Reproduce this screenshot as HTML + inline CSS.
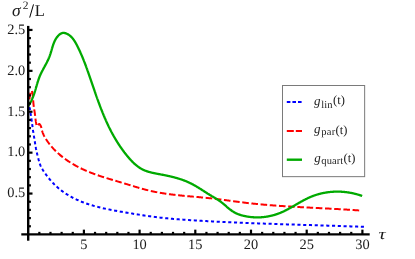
<!DOCTYPE html>
<html><head><meta charset="utf-8"><style>
html,body{margin:0;padding:0;background:#fff;}
svg{display:block;will-change:transform;}
text{font-family:"Liberation Serif",serif;fill:#1a1a1a;text-rendering:geometricPrecision;}
.tk{font-size:14.4px;}
.it{font-style:italic;}
.lg{font-size:13px;}
.sb{font-size:10.5px;}
.pt{font-size:12.5px;}
</style></head><body>
<svg width="415" height="259" viewBox="0 0 415 259">
<rect width="415" height="259" fill="#fff"/>
<path d="M361.85 226.77L362.22 226.79L362.58 226.80L362.95 226.81M356.08 226.57L356.45 226.58L356.82 226.59L357.18 226.61M350.32 226.37L350.68 226.38L351.05 226.39L351.42 226.41M344.55 226.18L344.92 226.19L345.28 226.20L345.65 226.21M338.78 225.99L339.15 226.00L339.52 226.01L339.88 226.02M333.02 225.80L333.38 225.81L333.75 225.83L334.12 225.84M327.25 225.62L327.62 225.63L327.98 225.64L328.35 225.66M321.48 225.44L321.85 225.45L322.22 225.47L322.58 225.48M315.72 225.27L316.08 225.28L316.45 225.29L316.81 225.30M309.95 225.09L310.31 225.10L310.68 225.11L311.05 225.12M304.18 224.91L304.55 224.92L304.91 224.94L305.28 224.95M298.41 224.74L298.78 224.75L299.15 224.76L299.51 224.77M292.65 224.56L293.01 224.57L293.38 224.58L293.75 224.59M286.88 224.38L287.25 224.39L287.61 224.40L287.98 224.41M281.11 224.19L281.48 224.20L281.84 224.21L282.21 224.23M275.34 224.00L275.71 224.01L276.08 224.03L276.44 224.04M269.58 223.81L269.94 223.82L270.31 223.83L270.68 223.84M263.81 223.61L264.18 223.62L264.54 223.63L264.91 223.65M258.05 223.40L258.41 223.41L258.78 223.43L259.14 223.44M252.28 223.19L252.65 223.20L253.01 223.21L253.38 223.23M246.51 222.96L246.88 222.98L247.25 222.99L247.61 223.01M240.75 222.73L241.11 222.75L241.48 222.76L241.85 222.78M234.98 222.49L235.35 222.50L235.72 222.52L236.08 222.54M229.22 222.24L229.59 222.25L229.95 222.27L230.32 222.29M223.45 221.97L223.82 221.99L224.19 222.01L224.55 222.02M217.70 221.70L218.07 221.71L218.43 221.73L218.80 221.75M211.97 221.41L212.34 221.43L212.71 221.44L213.07 221.46M206.25 221.10L206.61 221.12L206.98 221.14L207.34 221.16M200.52 220.79L200.89 220.81L201.25 220.83L201.62 220.85M194.79 220.45L195.16 220.48L195.53 220.50L195.89 220.52M189.07 220.10L189.44 220.12L189.80 220.14L190.17 220.17M183.35 219.70L183.71 219.73L184.08 219.76L184.45 219.78M177.63 219.27L177.99 219.30L178.36 219.33L178.73 219.36M171.91 218.78L172.28 218.82L172.64 218.85L173.01 218.88M166.20 218.24L166.56 218.27L166.93 218.31L167.29 218.35M160.49 217.62L160.85 217.66L161.22 217.70L161.58 217.74M154.79 216.93L155.15 216.97L155.52 217.02L155.88 217.06M149.10 216.16L149.46 216.21L149.82 216.26L150.19 216.31M143.41 215.34L143.78 215.39L144.14 215.45L144.50 215.50M137.74 214.46L138.10 214.52L138.46 214.58L138.82 214.63M132.07 213.55L132.43 213.61L132.79 213.67L133.15 213.73M126.40 212.61L126.76 212.67L127.13 212.73L127.49 212.79M120.74 211.64L121.10 211.71L121.46 211.77L121.82 211.83M115.08 210.64L115.45 210.71L115.81 210.77L116.17 210.84M109.44 209.57L109.80 209.64L110.16 209.71L110.52 209.78M103.82 208.39L104.18 208.47L104.54 208.55L104.90 208.62M98.24 207.06L98.59 207.15L98.95 207.24L99.30 207.33M92.70 205.54L93.05 205.65L93.40 205.75L93.75 205.85M87.22 203.81L87.57 203.93L87.91 204.04L88.26 204.16M81.85 201.83L82.19 201.96L82.53 202.09L82.87 202.23M76.60 199.56L76.93 199.72L77.26 199.87L77.60 200.02M71.49 197.00L71.81 197.17L72.13 197.34L72.46 197.52M66.55 194.10L66.87 194.30L67.18 194.49L67.49 194.69M61.84 190.86L62.13 191.08L62.43 191.30L62.73 191.51M57.39 187.26L57.67 187.50L57.95 187.74L58.22 187.98M53.27 183.29L53.52 183.55L53.78 183.81L54.03 184.08M49.45 179.01L49.69 179.29L49.92 179.57L50.16 179.85M45.93 174.49L46.14 174.78L46.36 175.08L46.58 175.37M42.69 169.75L42.88 170.06L43.08 170.37L43.28 170.68M40.11 164.63L40.25 164.97L40.38 165.31L40.53 165.65M38.48 159.11L38.57 159.47L38.67 159.82L38.76 160.18M37.05 153.54L37.14 153.89L37.22 154.25L37.31 154.61M35.86 147.90L35.93 148.27L35.99 148.63L36.06 148.99M34.91 142.22L34.97 142.59L35.03 142.95L35.08 143.31M33.99 136.54L34.05 136.90L34.11 137.27L34.17 137.63M33.08 130.86L33.14 131.22L33.19 131.58L33.25 131.94M32.29 125.15L32.34 125.51L32.39 125.88L32.44 126.24M31.52 119.45L31.57 119.81L31.62 120.17L31.67 120.53M30.62 113.76L30.68 114.12L30.74 114.48L30.80 114.84M29.62 108.09L29.70 108.45L29.76 108.81L29.83 109.17" fill="none" stroke="#0000ff" stroke-width="2" stroke-linecap="square"/>
<path d="M28.20 105.80L28.40 105.29L28.57 104.79L28.73 104.31L28.86 103.86L28.98 103.41L29.09 102.99L29.18 102.57L29.26 102.17L29.32 101.78L29.37 101.41L29.42 101.04L29.46 100.68L29.49 100.32L29.51 99.97L29.53 99.63L29.55 99.29L29.56 98.95L29.57 98.61L29.59 98.28L29.60 97.94L29.62 97.59L29.64 97.25L29.67 96.90L29.71 96.54L29.75 96.18L29.80 95.81L29.86 95.42L29.93 95.03L30.02 94.62L30.12 94.21L30.23 93.77L30.36 93.32L30.51 92.86L30.68 92.38L30.86 91.90L31.05 91.47L31.25 91.13L31.44 90.93L31.61 90.91L31.77 91.07L31.92 91.38L32.05 91.80L32.17 92.29L32.28 92.83L32.38 93.38L32.47 93.90L32.55 94.40L32.62 94.87L32.68 95.32L32.74 95.74L32.79 96.15L32.84 96.54L32.88 96.91L32.92 97.28L32.95 97.63L32.98 97.98L33.01 98.33L33.04 98.68L33.06 99.03L33.09 99.38L33.12 99.74L33.15 100.11L33.18 100.49L33.21 100.88L33.24 101.27L33.28 101.66L33.31 102.06L33.35 102.47L33.38 102.87L33.42 103.28L33.46 103.69L33.50 104.10L33.55 104.51L33.59 104.92L33.63 105.33L33.68 105.74L33.73 106.14L33.78 106.54L33.83 106.94L33.88 107.34L33.94 107.73L34.00 108.12L34.06 108.52L34.12 108.91L34.18 109.30L34.24 109.70L34.31 110.09L34.38 110.49L34.44 110.88L34.51 111.28L34.57 111.67L34.64 112.07L34.70 112.46L34.75 112.86L34.81 113.26L34.86 113.65L34.91 114.05L34.96 114.45L35.01 114.84L35.06 115.24L35.10 115.64L35.15 116.04L35.19 116.43L35.23 116.83L35.28 117.23L35.33 117.63L35.37 118.02L35.42 118.42L35.47 118.82L35.52 119.21L35.57 119.61L35.63 120.01L35.69 120.40L35.75 120.80L35.81 121.20L35.88 121.59L35.94 121.99L36.01 122.38L36.07 122.77L36.13 123.17L36.19 123.56L36.25 123.95L36.32 124.34L36.41 124.73L36.56 125.12L36.76 125.51L37.03 125.86L37.32 126.06L37.61 126.01L37.88 125.74L38.14 125.32L38.38 124.86L38.62 124.43L38.85 124.10L39.11 123.92L39.38 123.95L39.67 124.18L39.96 124.54L40.23 124.94L40.46 125.33L40.66 125.71L40.83 126.08L40.97 126.44L41.09 126.80L41.20 127.17L41.30 127.53L41.39 127.91L41.48 128.29L41.56 128.67L41.65 129.06L41.74 129.45L41.83 129.85L41.93 130.24L42.03 130.63L42.14 131.02L42.25 131.40L42.38 131.78L42.51 132.16L42.64 132.54L42.78 132.92L42.93 133.29L43.08 133.67L43.23 134.04L43.40 134.40L43.56 134.77L43.74 135.14L43.91 135.50L44.09 135.86L44.28 136.22L44.47 136.57L44.66 136.93L44.86 137.28L45.06 137.63L45.27 137.98L45.48 138.33L45.69 138.67L45.90 139.02L46.12 139.36L46.34 139.70L46.56 140.03L46.79 140.37L47.02 140.71L47.25 141.04L47.48 141.37L47.71 141.70L47.95 142.03L48.19 142.35L48.43 142.68L48.67 143.00L48.91 143.32L49.16 143.64L49.40 143.96L49.65 144.28L49.90 144.59L50.15 144.90L50.40 145.21L50.66 145.52L50.91 145.83L51.17 146.14L51.43 146.44L51.69 146.75L51.95 147.05L52.22 147.35L52.48 147.65L52.75 147.94L53.02 148.24L53.29 148.53L53.56 148.82L53.83 149.12L54.10 149.40L54.38 149.69L54.66 149.98L54.94 150.26L55.22 150.55L55.50 150.83L55.78 151.11L56.07 151.38L56.35 151.66L56.64 151.94L56.93 152.21L57.22 152.48L57.51 152.75L57.80 153.02L58.10 153.29L58.39 153.56L58.69 153.82L58.99 154.08L59.29 154.35L59.59 154.61L59.89 154.86L60.19 155.12L60.50 155.38L60.80 155.63L61.11 155.88L61.42 156.14L61.73 156.39L62.04 156.63L62.35 156.88L62.66 157.13L62.98 157.37L63.29 157.61L63.61 157.86L63.92 158.10L64.24 158.33L64.56 158.57L64.88 158.81L65.21 159.04L65.53 159.28L65.85 159.51L66.18 159.74L66.50 159.97L66.83 160.19L67.16 160.42L67.49 160.64L67.82 160.87L68.15 161.09L68.48 161.31L68.81 161.53L69.15 161.75L69.48 161.97L69.82 162.18L70.15 162.39L70.49 162.61L70.83 162.82L71.17 163.03L71.51 163.24L71.85 163.45L72.19 163.65L72.54 163.86L72.88 164.06L73.22 164.26L73.57 164.46L73.92 164.66L74.26 164.86L74.61 165.06L74.96 165.25L75.31 165.45L75.66 165.64L76.01 165.84L76.36 166.03L76.71 166.22L77.07 166.40L77.42 166.59L77.77 166.78L78.13 166.96L78.48 167.15L78.84 167.33L79.20 167.51L79.55 167.69L79.91 167.87L80.27 168.05L80.63 168.22L80.99 168.40L81.35 168.57L81.71 168.74L82.07 168.92L82.43 169.09L82.80 169.26L83.16 169.42L83.52 169.59L83.89 169.76L84.25 169.92L84.62 170.09L84.98 170.25L85.35 170.41L85.71 170.57L86.08 170.73L86.45 170.89L86.82 171.04L87.18 171.20L87.55 171.36L87.92 171.51L88.29 171.66L88.66 171.81L89.03 171.96L89.40 172.11L89.77 172.26L90.14 172.41L90.51 172.56L90.89 172.70L91.26 172.85L91.63 172.99L92.00 173.14L92.38 173.28L92.75 173.42L93.12 173.56L93.50 173.70L93.87 173.84L94.25 173.98L94.62 174.11L95.00 174.25L95.38 174.39L95.75 174.52L96.13 174.66L96.51 174.79L96.88 174.92L97.26 175.05L97.64 175.19L98.02 175.32L98.39 175.45L98.77 175.58L99.15 175.70L99.53 175.83L99.91 175.96L100.29 176.09L100.67 176.21L101.05 176.34L101.43 176.46L101.81 176.59L102.19 176.71L102.57 176.84L102.95 176.96L103.33 177.08L103.71 177.20L104.09 177.33L104.47 177.45L104.86 177.57L105.24 177.69L105.62 177.81L106.00 177.93L106.39 178.05L106.77 178.17L107.15 178.28L107.53 178.40L107.92 178.52L108.30 178.64L108.68 178.75L109.07 178.87L109.45 178.99L109.83 179.10L110.22 179.22L110.60 179.33L110.98 179.45L111.37 179.57L111.75 179.68L112.14 179.80L112.52 179.91L112.90 180.02L113.29 180.14L113.67 180.25L114.06 180.37L114.44 180.48L114.83 180.60L115.21 180.71L115.60 180.82L115.98 180.94L116.36 181.05L116.75 181.16L117.13 181.28L117.52 181.39L117.90 181.51L118.29 181.62L118.67 181.73L119.06 181.85L119.44 181.96L119.83 182.08L120.21 182.19L120.59 182.30L120.98 182.42L121.36 182.53L121.75 182.65L122.13 182.76L122.52 182.88L122.90 182.99L123.28 183.11L123.67 183.22L124.05 183.34L124.43 183.45L124.82 183.57L125.20 183.69L125.58 183.80L125.97 183.92L126.35 184.04L126.73 184.15L127.12 184.27L127.50 184.39L127.88 184.51L128.27 184.62L128.65 184.74L129.03 184.86L129.42 184.98L129.80 185.09L130.18 185.21L130.56 185.33L130.95 185.44L131.33 185.56L131.71 185.68L132.10 185.80L132.48 185.91L132.86 186.03L133.24 186.15L133.63 186.26L134.01 186.38L134.39 186.49L134.78 186.61L135.16 186.72L135.54 186.84L135.92 186.95L136.31 187.07L136.69 187.18L137.07 187.30L137.46 187.41L137.84 187.52L138.22 187.63L138.61 187.75L138.99 187.86L139.37 187.97L139.76 188.08L140.14 188.19L140.53 188.30L140.91 188.41L141.29 188.52L141.68 188.62L142.06 188.73L142.45 188.84L142.83 188.94L143.22 189.05L143.60 189.15L143.99 189.26L144.37 189.36L144.76 189.46L145.14 189.57L145.53 189.67L145.91 189.77L146.30 189.87L146.69 189.97L147.07 190.06L147.46 190.16L147.85 190.26L148.23 190.35L148.62 190.45L149.01 190.54L149.39 190.63L149.78 190.72L150.17 190.81L150.56 190.90L150.95 190.99L151.33 191.08L151.72 191.17L152.11 191.25L152.50 191.34L152.89 191.42L153.28 191.50L153.67 191.59L154.06 191.67L154.45 191.75L154.84 191.83L155.23 191.90L155.62 191.98L156.01 192.06L156.40 192.13L156.79 192.21L157.19 192.28L157.58 192.35L157.97 192.43L158.36 192.50L158.75 192.57L159.15 192.64L159.54 192.71L159.93 192.78L160.32 192.84L160.72 192.91L161.11 192.98L161.50 193.04L161.90 193.11L162.29 193.17L162.68 193.23L163.08 193.30L163.47 193.36L163.87 193.42L164.26 193.48L164.66 193.54L165.05 193.60L165.45 193.66L165.84 193.71L166.24 193.77L166.63 193.83L167.03 193.88L167.42 193.94L167.82 193.99L168.21 194.05L168.61 194.10L169.01 194.15L169.40 194.20L169.80 194.26L170.20 194.31L170.59 194.36L170.99 194.41L171.39 194.46L171.78 194.51L172.18 194.56L172.58 194.60L172.97 194.65L173.37 194.70L173.77 194.75L174.17 194.79L174.56 194.84L174.96 194.88L175.36 194.93L175.76 194.97L176.15 195.02L176.55 195.06L176.95 195.10L177.35 195.15L177.75 195.19L178.15 195.23L178.54 195.27L178.94 195.32L179.34 195.36L179.74 195.40L180.14 195.44L180.54 195.48L180.94 195.52L181.34 195.56L181.73 195.60L182.13 195.64L182.53 195.68L182.93 195.71L183.33 195.75L183.73 195.79L184.13 195.83L184.53 195.87L184.93 195.90L185.33 195.94L185.73 195.98L186.13 196.02L186.53 196.05L186.93 196.09L187.33 196.13L187.73 196.16L188.13 196.20L188.53 196.23L188.93 196.27L189.33 196.31L189.73 196.34L190.13 196.38L190.53 196.41L190.93 196.45L191.33 196.48L191.72 196.52L192.12 196.55L192.52 196.59L192.92 196.63L193.32 196.66L193.72 196.70L194.12 196.73L194.52 196.77L194.92 196.80L195.32 196.84L195.72 196.87L196.12 196.91L196.52 196.94L196.92 196.98L197.32 197.02L197.72 197.05L198.12 197.09L198.52 197.12L198.92 197.16L199.32 197.20L199.72 197.23L200.12 197.27L200.52 197.31L200.92 197.34L201.32 197.38L201.72 197.42L202.12 197.45L202.52 197.49L202.92 197.53L203.32 197.57L203.72 197.61L204.12 197.64L204.52 197.68L204.92 197.72L205.32 197.76L205.72 197.80L206.11 197.84L206.51 197.88L206.91 197.92L207.31 197.96L207.71 198.00L208.11 198.04L208.51 198.09L208.91 198.13L209.31 198.17L209.70 198.21L210.10 198.26L210.50 198.30L210.90 198.34L211.30 198.39L211.70 198.43L212.09 198.48L212.49 198.52L212.89 198.57L213.29 198.61L213.68 198.66L214.08 198.71L214.48 198.75L214.88 198.80L215.27 198.85L215.67 198.90L216.07 198.94L216.47 198.99L216.86 199.04L217.26 199.09L217.66 199.14L218.05 199.19L218.45 199.24L218.85 199.29L219.25 199.34L219.64 199.39L220.04 199.44L220.44 199.49L220.83 199.54L221.23 199.59L221.63 199.64L222.02 199.70L222.42 199.75L222.82 199.80L223.21 199.85L223.61 199.90L224.00 199.96L224.40 200.01L224.80 200.06L225.19 200.11L225.59 200.17L225.99 200.22L226.38 200.27L226.78 200.33L227.17 200.38L227.57 200.43L227.97 200.48L228.36 200.54L228.76 200.59L229.15 200.64L229.55 200.70L229.95 200.75L230.34 200.80L230.74 200.86L231.13 200.91L231.53 200.96L231.93 201.02L232.32 201.07L232.72 201.12L233.11 201.18L233.51 201.23L233.90 201.28L234.30 201.34L234.70 201.39L235.09 201.44L235.49 201.49L235.88 201.55L236.28 201.60L236.68 201.65L237.07 201.70L237.47 201.75L237.86 201.81L238.26 201.86L238.66 201.91L239.05 201.96L239.45 202.01L239.84 202.06L240.24 202.11L240.64 202.16L241.03 202.21L241.43 202.26L241.82 202.31L242.22 202.36L242.62 202.41L243.01 202.46L243.41 202.51L243.81 202.56L244.20 202.61L244.60 202.66L245.00 202.70L245.39 202.75L245.79 202.80L246.18 202.85L246.58 202.89L246.98 202.94L247.37 202.98L247.77 203.03L248.17 203.08L248.57 203.12L248.96 203.16L249.36 203.21L249.76 203.25L250.15 203.30L250.55 203.34L250.95 203.38L251.34 203.43L251.74 203.47L252.14 203.51L252.54 203.56L252.93 203.60L253.33 203.64L253.73 203.68L254.12 203.72L254.52 203.76L254.92 203.80L255.32 203.84L255.71 203.88L256.11 203.92L256.51 203.96L256.91 204.00L257.30 204.04L257.70 204.08L258.10 204.12L258.50 204.16L258.89 204.20L259.29 204.23L259.69 204.27L260.09 204.31L260.49 204.35L260.88 204.38L261.28 204.42L261.68 204.46L262.08 204.49L262.48 204.53L262.87 204.56L263.27 204.60L263.67 204.64L264.07 204.67L264.47 204.71L264.86 204.74L265.26 204.77L265.66 204.81L266.06 204.84L266.46 204.88L266.86 204.91L267.25 204.94L267.65 204.98L268.05 205.01L268.45 205.04L268.85 205.07L269.25 205.11L269.64 205.14L270.04 205.17L270.44 205.20L270.84 205.23L271.24 205.27L271.64 205.30L272.04 205.33L272.43 205.36L272.83 205.39L273.23 205.42L273.63 205.45L274.03 205.48L274.43 205.51L274.83 205.54L275.23 205.57L275.62 205.60L276.02 205.63L276.42 205.66L276.82 205.68L277.22 205.71L277.62 205.74L278.02 205.77L278.42 205.80L278.82 205.83L279.22 205.85L279.61 205.88L280.01 205.91L280.41 205.94L280.81 205.96L281.21 205.99L281.61 206.02L282.01 206.04L282.41 206.07L282.81 206.10L283.21 206.12L283.61 206.15L284.01 206.18L284.40 206.20L284.80 206.23L285.20 206.25L285.60 206.28L286.00 206.30L286.40 206.33L286.80 206.35L287.20 206.38L287.60 206.40L288.00 206.43L288.40 206.45L288.80 206.48L289.20 206.50L289.60 206.53L290.00 206.55L290.40 206.57L290.80 206.60L291.20 206.62L291.59 206.65L291.99 206.67L292.39 206.69L292.79 206.72L293.19 206.74L293.59 206.76L293.99 206.78L294.39 206.81L294.79 206.83L295.19 206.85L295.59 206.88L295.99 206.90L296.39 206.92L296.79 206.94L297.19 206.97L297.59 206.99L297.99 207.01L298.39 207.03L298.79 207.05L299.19 207.08L299.59 207.10L299.99 207.12L300.39 207.14L300.79 207.16L301.19 207.18L301.59 207.21L301.99 207.23L302.39 207.25L302.79 207.27L303.19 207.29L303.59 207.31L303.99 207.33L304.39 207.35L304.79 207.38L305.19 207.40L305.59 207.42L305.99 207.44L306.39 207.46L306.79 207.48L307.19 207.50L307.58 207.52L307.98 207.54L308.38 207.56L308.78 207.58L309.18 207.60L309.58 207.62L309.98 207.64L310.38 207.66L310.78 207.68L311.18 207.70L311.58 207.73L311.98 207.75L312.38 207.77L312.78 207.79L313.18 207.81L313.58 207.83L313.98 207.85L314.38 207.87L314.78 207.89L315.18 207.91L315.58 207.93L315.98 207.95L316.38 207.97L316.78 207.99L317.18 208.01L317.58 208.03L317.98 208.05L318.38 208.07L318.78 208.09L319.18 208.11L319.58 208.13L319.98 208.15L320.38 208.17L320.78 208.19L321.18 208.21L321.58 208.23L321.98 208.25L322.38 208.27L322.78 208.29L323.18 208.31L323.58 208.33L323.98 208.35L324.38 208.37L324.78 208.39L325.18 208.41L325.58 208.43L325.98 208.45L326.38 208.47L326.78 208.49L327.18 208.52L327.58 208.54L327.98 208.56L328.38 208.58L328.78 208.60L329.18 208.62L329.58 208.64L329.98 208.66L330.38 208.68L330.78 208.70L331.18 208.72L331.58 208.75L331.97 208.77L332.37 208.79L332.77 208.81L333.17 208.83L333.57 208.85L333.97 208.87L334.37 208.90L334.77 208.92L335.17 208.94L335.57 208.96L335.97 208.98L336.37 209.00L336.77 209.03L337.17 209.05L337.57 209.07L337.97 209.09L338.37 209.12L338.77 209.14L339.17 209.16L339.57 209.18L339.96 209.21L340.36 209.23L340.76 209.25L341.16 209.28L341.56 209.30L341.96 209.32L342.36 209.35L342.76 209.37L343.16 209.39L343.56 209.42L343.96 209.44L344.36 209.46L344.76 209.49L345.16 209.51L345.55 209.54L345.95 209.56L346.35 209.59L346.75 209.61L347.15 209.63L347.55 209.66L347.95 209.68L348.35 209.71L348.75 209.74L349.15 209.76L349.54 209.79L349.94 209.81L350.34 209.84L350.74 209.86L351.14 209.89L351.54 209.92L351.94 209.94L352.34 209.97L352.73 210.00L353.13 210.02L353.53 210.05L353.93 210.08L354.33 210.10L354.73 210.13L355.13 210.16L355.53 210.19L355.92 210.21L356.32 210.24L356.72 210.27L357.12 210.30L357.52 210.33L357.92 210.36L358.31 210.38L358.71 210.41L359.11 210.44L359.51 210.47L359.91 210.50L360.31 210.53L360.70 210.56L361.10 210.59" fill="none" stroke="#ff0000" stroke-width="2" stroke-linecap="square" stroke-dasharray="4.6 4.62" stroke-dashoffset="1.60"/>
<path d="M28.20 105.80L28.44 105.48L28.68 105.15L28.91 104.82L29.13 104.49L29.36 104.16L29.57 103.83L29.79 103.49L29.99 103.15L30.20 102.81L30.40 102.46L30.59 102.11L30.78 101.77L30.97 101.41L31.16 101.06L31.34 100.71L31.51 100.35L31.69 99.99L31.86 99.63L32.02 99.27L32.19 98.91L32.35 98.54L32.50 98.18L32.66 97.81L32.81 97.44L32.96 97.07L33.10 96.69L33.25 96.32L33.39 95.95L33.53 95.57L33.66 95.19L33.80 94.81L33.93 94.44L34.06 94.05L34.19 93.67L34.32 93.29L34.44 92.91L34.57 92.52L34.69 92.14L34.81 91.76L34.93 91.37L35.05 90.98L35.17 90.60L35.28 90.21L35.40 89.82L35.51 89.43L35.63 89.05L35.74 88.66L35.86 88.27L35.97 87.88L36.08 87.49L36.19 87.10L36.31 86.71L36.42 86.32L36.53 85.93L36.65 85.55L36.76 85.16L36.87 84.77L36.99 84.38L37.10 83.99L37.22 83.61L37.33 83.22L37.45 82.84L37.57 82.45L37.69 82.07L37.81 81.68L37.93 81.30L38.06 80.92L38.18 80.53L38.31 80.15L38.44 79.77L38.57 79.40L38.70 79.02L38.83 78.64L38.97 78.27L39.11 77.89L39.25 77.52L39.39 77.15L39.54 76.78L39.69 76.41L39.84 76.04L39.99 75.68L40.15 75.31L40.31 74.95L40.47 74.59L40.63 74.23L40.80 73.87L40.97 73.51L41.14 73.16L41.31 72.80L41.48 72.45L41.66 72.09L41.84 71.74L42.02 71.39L42.20 71.04L42.38 70.69L42.57 70.34L42.75 69.99L42.94 69.64L43.12 69.29L43.31 68.94L43.50 68.60L43.69 68.25L43.88 67.90L44.07 67.55L44.26 67.21L44.44 66.86L44.63 66.51L44.82 66.16L45.01 65.82L45.20 65.47L45.39 65.12L45.58 64.77L45.77 64.42L45.96 64.07L46.14 63.72L46.33 63.37L46.51 63.02L46.69 62.66L46.88 62.31L47.06 61.95L47.23 61.60L47.41 61.24L47.59 60.88L47.76 60.52L47.93 60.16L48.10 59.80L48.27 59.43L48.43 59.07L48.60 58.70L48.76 58.33L48.91 57.96L49.07 57.59L49.22 57.22L49.37 56.84L49.52 56.46L49.66 56.08L49.80 55.70L49.94 55.32L50.07 54.93L50.20 54.54L50.33 54.15L50.46 53.76L50.58 53.37L50.70 52.98L50.82 52.59L50.94 52.19L51.06 51.80L51.18 51.40L51.30 51.00L51.41 50.61L51.53 50.21L51.64 49.81L51.76 49.42L51.87 49.02L51.99 48.62L52.11 48.23L52.22 47.83L52.34 47.44L52.46 47.05L52.58 46.65L52.71 46.26L52.83 45.88L52.96 45.49L53.09 45.10L53.22 44.72L53.35 44.33L53.49 43.95L53.63 43.58L53.77 43.20L53.92 42.83L54.07 42.46L54.22 42.09L54.38 41.72L54.54 41.36L54.71 41.00L54.88 40.65L55.06 40.30L55.24 39.95L55.43 39.60L55.62 39.26L55.82 38.93L56.02 38.59L56.23 38.27L56.45 37.94L56.67 37.62L56.90 37.31L57.14 37.00L57.38 36.70L57.63 36.40L57.89 36.10L58.16 35.81L58.43 35.53L58.71 35.25L59.00 34.98L59.30 34.72L59.61 34.47L59.92 34.23L60.24 34.01L60.57 33.80L60.90 33.61L61.24 33.44L61.59 33.28L61.95 33.16L62.31 33.05L62.67 32.97L63.05 32.92L63.43 32.90L63.81 32.91L64.20 32.95L64.58 33.01L64.97 33.10L65.36 33.21L65.74 33.33L66.12 33.46L66.49 33.61L66.86 33.77L67.22 33.93L67.57 34.11L67.91 34.30L68.25 34.49L68.58 34.70L68.90 34.91L69.22 35.13L69.54 35.36L69.84 35.60L70.14 35.84L70.44 36.10L70.73 36.36L71.01 36.63L71.29 36.90L71.57 37.18L71.84 37.47L72.10 37.76L72.36 38.06L72.62 38.37L72.87 38.68L73.11 39.00L73.35 39.32L73.59 39.64L73.83 39.97L74.06 40.31L74.28 40.65L74.51 40.99L74.73 41.34L74.94 41.68L75.16 42.04L75.37 42.39L75.58 42.75L75.78 43.11L75.98 43.47L76.18 43.84L76.38 44.20L76.58 44.57L76.77 44.94L76.96 45.31L77.15 45.68L77.34 46.05L77.52 46.42L77.71 46.79L77.89 47.16L78.08 47.53L78.26 47.90L78.44 48.27L78.62 48.64L78.79 49.01L78.97 49.38L79.14 49.75L79.32 50.12L79.49 50.49L79.66 50.85L79.83 51.22L80.00 51.59L80.17 51.96L80.34 52.33L80.50 52.70L80.67 53.07L80.83 53.44L80.99 53.81L81.16 54.18L81.32 54.54L81.48 54.91L81.63 55.28L81.79 55.65L81.95 56.02L82.11 56.39L82.26 56.76L82.41 57.12L82.57 57.49L82.72 57.86L82.87 58.23L83.02 58.60L83.17 58.97L83.32 59.34L83.47 59.71L83.62 60.07L83.76 60.44L83.91 60.81L84.05 61.18L84.20 61.55L84.34 61.92L84.49 62.29L84.63 62.66L84.77 63.03L84.91 63.39L85.05 63.76L85.19 64.13L85.33 64.50L85.47 64.87L85.61 65.24L85.75 65.61L85.89 65.98L86.02 66.35L86.16 66.72L86.30 67.09L86.43 67.46L86.57 67.83L86.70 68.20L86.84 68.57L86.97 68.95L87.10 69.32L87.24 69.69L87.37 70.06L87.50 70.43L87.63 70.80L87.77 71.17L87.90 71.55L88.03 71.92L88.16 72.29L88.29 72.66L88.42 73.04L88.55 73.41L88.68 73.78L88.81 74.15L88.94 74.53L89.07 74.90L89.20 75.28L89.33 75.65L89.46 76.02L89.59 76.40L89.72 76.77L89.85 77.15L89.98 77.52L90.11 77.90L90.24 78.28L90.37 78.65L90.50 79.03L90.63 79.40L90.76 79.78L90.89 80.16L91.02 80.53L91.15 80.91L91.28 81.29L91.40 81.66L91.53 82.04L91.66 82.42L91.79 82.80L91.92 83.17L92.05 83.55L92.18 83.93L92.31 84.31L92.44 84.69L92.57 85.06L92.70 85.44L92.83 85.82L92.96 86.20L93.09 86.58L93.22 86.96L93.35 87.33L93.48 87.71L93.61 88.09L93.74 88.47L93.87 88.85L94.00 89.23L94.13 89.61L94.26 89.99L94.39 90.37L94.52 90.75L94.65 91.12L94.78 91.50L94.91 91.88L95.05 92.26L95.18 92.64L95.31 93.02L95.44 93.40L95.58 93.78L95.71 94.16L95.84 94.54L95.97 94.92L96.11 95.30L96.24 95.67L96.37 96.05L96.51 96.43L96.64 96.81L96.78 97.19L96.91 97.57L97.05 97.95L97.18 98.33L97.32 98.70L97.45 99.08L97.59 99.46L97.73 99.84L97.86 100.22L98.00 100.60L98.14 100.97L98.28 101.35L98.41 101.73L98.55 102.11L98.69 102.49L98.83 102.86L98.97 103.24L99.11 103.62L99.25 103.99L99.39 104.37L99.53 104.75L99.67 105.12L99.81 105.50L99.95 105.88L100.10 106.25L100.24 106.63L100.38 107.01L100.53 107.38L100.67 107.76L100.82 108.13L100.96 108.51L101.11 108.88L101.25 109.26L101.40 109.63L101.54 110.00L101.69 110.38L101.84 110.75L101.99 111.12L102.14 111.50L102.29 111.87L102.43 112.24L102.58 112.62L102.74 112.99L102.89 113.36L103.04 113.73L103.19 114.10L103.34 114.47L103.50 114.85L103.65 115.22L103.80 115.59L103.96 115.96L104.11 116.33L104.27 116.69L104.43 117.06L104.58 117.43L104.74 117.80L104.90 118.17L105.06 118.54L105.22 118.90L105.38 119.27L105.54 119.64L105.70 120.00L105.86 120.37L106.03 120.74L106.19 121.10L106.35 121.47L106.52 121.83L106.68 122.19L106.85 122.56L107.02 122.92L107.18 123.28L107.35 123.65L107.52 124.01L107.69 124.37L107.86 124.73L108.03 125.09L108.20 125.45L108.37 125.81L108.55 126.17L108.72 126.53L108.90 126.89L109.07 127.25L109.25 127.61L109.42 127.97L109.60 128.32L109.78 128.68L109.96 129.04L110.14 129.39L110.32 129.75L110.50 130.10L110.68 130.46L110.86 130.81L111.05 131.16L111.23 131.52L111.42 131.87L111.60 132.22L111.79 132.57L111.98 132.93L112.17 133.28L112.35 133.63L112.54 133.98L112.74 134.33L112.93 134.67L113.12 135.02L113.31 135.37L113.51 135.72L113.70 136.07L113.90 136.41L114.10 136.76L114.29 137.10L114.49 137.45L114.69 137.79L114.89 138.14L115.09 138.48L115.30 138.82L115.50 139.17L115.70 139.51L115.91 139.85L116.11 140.19L116.32 140.53L116.53 140.87L116.74 141.21L116.95 141.55L117.16 141.89L117.37 142.23L117.58 142.56L117.79 142.90L118.01 143.24L118.22 143.57L118.44 143.91L118.66 144.24L118.88 144.57L119.10 144.91L119.32 145.24L119.54 145.57L119.76 145.90L119.98 146.24L120.21 146.57L120.43 146.90L120.66 147.23L120.89 147.55L121.11 147.88L121.34 148.21L121.57 148.54L121.81 148.86L122.04 149.19L122.27 149.51L122.51 149.84L122.74 150.16L122.98 150.49L123.22 150.81L123.46 151.13L123.70 151.45L123.94 151.77L124.18 152.10L124.42 152.42L124.67 152.73L124.91 153.05L125.16 153.37L125.41 153.69L125.66 154.00L125.91 154.32L126.16 154.64L126.41 154.95L126.67 155.26L126.92 155.58L127.18 155.89L127.44 156.20L127.69 156.51L127.95 156.83L128.21 157.14L128.48 157.44L128.74 157.75L129.00 158.06L129.27 158.37L129.54 158.67L129.81 158.97L130.08 159.28L130.35 159.58L130.62 159.88L130.89 160.17L131.17 160.47L131.45 160.76L131.73 161.06L132.01 161.35L132.29 161.63L132.57 161.92L132.86 162.21L133.15 162.49L133.44 162.77L133.73 163.04L134.02 163.32L134.31 163.59L134.61 163.86L134.91 164.13L135.21 164.39L135.51 164.65L135.81 164.91L136.12 165.17L136.42 165.42L136.73 165.67L137.04 165.91L137.36 166.15L137.67 166.39L137.99 166.63L138.31 166.86L138.63 167.09L138.96 167.31L139.28 167.53L139.61 167.75L139.94 167.96L140.28 168.17L140.61 168.37L140.95 168.57L141.29 168.77L141.63 168.96L141.98 169.14L142.32 169.33L142.67 169.50L143.02 169.67L143.38 169.84L143.74 170.01L144.09 170.17L144.46 170.32L144.82 170.47L145.18 170.62L145.55 170.76L145.92 170.90L146.29 171.04L146.67 171.17L147.04 171.30L147.42 171.42L147.80 171.54L148.18 171.66L148.56 171.78L148.94 171.89L149.33 172.00L149.71 172.11L150.10 172.21L150.49 172.31L150.88 172.41L151.27 172.51L151.66 172.60L152.05 172.70L152.45 172.79L152.84 172.88L153.24 172.97L153.63 173.05L154.03 173.14L154.43 173.22L154.82 173.30L155.22 173.38L155.62 173.46L156.02 173.54L156.42 173.62L156.82 173.69L157.22 173.77L157.62 173.85L158.02 173.92L158.42 174.00L158.82 174.07L159.22 174.15L159.62 174.22L160.02 174.30L160.42 174.37L160.82 174.45L161.22 174.52L161.62 174.60L162.02 174.67L162.42 174.75L162.82 174.83L163.21 174.91L163.61 174.98L164.01 175.06L164.41 175.14L164.80 175.22L165.20 175.30L165.59 175.38L165.99 175.46L166.38 175.54L166.78 175.63L167.17 175.71L167.56 175.79L167.96 175.88L168.35 175.97L168.74 176.05L169.13 176.14L169.53 176.23L169.92 176.32L170.31 176.41L170.70 176.50L171.09 176.59L171.48 176.68L171.86 176.77L172.25 176.87L172.64 176.96L173.03 177.06L173.41 177.16L173.80 177.26L174.19 177.36L174.57 177.46L174.96 177.56L175.34 177.67L175.72 177.77L176.11 177.88L176.49 177.98L176.87 178.09L177.25 178.20L177.63 178.31L178.01 178.43L178.39 178.54L178.77 178.66L179.15 178.77L179.53 178.89L179.91 179.01L180.28 179.14L180.66 179.26L181.03 179.38L181.41 179.51L181.78 179.64L182.16 179.77L182.53 179.90L182.90 180.03L183.27 180.17L183.65 180.30L184.02 180.44L184.39 180.58L184.75 180.73L185.12 180.87L185.49 181.02L185.86 181.16L186.22 181.31L186.59 181.47L186.95 181.62L187.32 181.77L187.68 181.93L188.04 182.09L188.40 182.25L188.77 182.42L189.13 182.59L189.48 182.75L189.84 182.92L190.20 183.10L190.56 183.27L190.91 183.45L191.27 183.63L191.63 183.81L191.98 183.99L192.33 184.18L192.69 184.37L193.04 184.56L193.39 184.75L193.74 184.94L194.09 185.14L194.44 185.33L194.79 185.53L195.14 185.73L195.49 185.93L195.83 186.13L196.18 186.34L196.53 186.54L196.87 186.75L197.22 186.95L197.56 187.16L197.91 187.37L198.25 187.58L198.60 187.79L198.94 188.01L199.28 188.22L199.63 188.43L199.97 188.65L200.31 188.86L200.65 189.08L200.99 189.29L201.34 189.51L201.68 189.73L202.02 189.95L202.36 190.16L202.70 190.38L203.04 190.60L203.38 190.82L203.72 191.04L204.06 191.26L204.40 191.47L204.74 191.69L205.08 191.91L205.42 192.13L205.76 192.35L206.10 192.56L206.44 192.78L206.78 193.00L207.12 193.21L207.46 193.43L207.81 193.64L208.15 193.86L208.49 194.07L208.83 194.28L209.17 194.50L209.51 194.71L209.85 194.92L210.19 195.12L210.54 195.33L210.88 195.54L211.22 195.74L211.56 195.95L211.91 196.15L212.25 196.36L212.59 196.56L212.93 196.76L213.28 196.96L213.62 197.17L213.96 197.37L214.30 197.57L214.64 197.78L214.98 197.98L215.32 198.18L215.66 198.39L216.00 198.60L216.34 198.80L216.67 199.01L217.01 199.22L217.34 199.43L217.67 199.65L218.01 199.86L218.34 200.08L218.66 200.30L218.99 200.52L219.32 200.75L219.64 200.97L219.97 201.20L220.29 201.44L220.61 201.67L220.92 201.91L221.24 202.15L221.55 202.40L221.87 202.64L222.18 202.89L222.49 203.14L222.80 203.39L223.11 203.65L223.41 203.90L223.72 204.16L224.03 204.42L224.33 204.68L224.64 204.94L224.94 205.20L225.24 205.46L225.55 205.72L225.85 205.98L226.16 206.24L226.46 206.50L226.77 206.77L227.07 207.03L227.38 207.28L227.68 207.54L227.99 207.80L228.30 208.06L228.61 208.31L228.92 208.56L229.23 208.81L229.54 209.06L229.86 209.31L230.17 209.55L230.49 209.80L230.81 210.03L231.13 210.27L231.45 210.50L231.78 210.73L232.10 210.96L232.43 211.18L232.77 211.40L233.10 211.62L233.44 211.83L233.78 212.03L234.12 212.23L234.46 212.43L234.81 212.62L235.16 212.81L235.52 212.99L235.88 213.17L236.24 213.34L236.60 213.51L236.97 213.67L237.34 213.83L237.71 213.98L238.08 214.13L238.46 214.27L238.84 214.41L239.22 214.55L239.60 214.68L239.98 214.81L240.37 214.93L240.76 215.05L241.15 215.17L241.54 215.28L241.93 215.39L242.32 215.50L242.72 215.60L243.11 215.70L243.51 215.79L243.90 215.88L244.30 215.97L244.70 216.06L245.10 216.14L245.50 216.22L245.89 216.30L246.29 216.38L246.69 216.45L247.09 216.52L247.49 216.59L247.89 216.65L248.29 216.71L248.69 216.77L249.09 216.83L249.49 216.88L249.89 216.93L250.29 216.98L250.69 217.02L251.09 217.07L251.49 217.11L251.89 217.14L252.29 217.18L252.70 217.21L253.10 217.24L253.50 217.26L253.90 217.29L254.30 217.31L254.70 217.33L255.10 217.34L255.50 217.35L255.90 217.37L256.30 217.37L256.70 217.38L257.10 217.38L257.50 217.38L257.90 217.38L258.30 217.37L258.70 217.36L259.10 217.35L259.50 217.34L259.90 217.32L260.30 217.30L260.70 217.28L261.10 217.26L261.49 217.23L261.89 217.20L262.29 217.17L262.69 217.14L263.08 217.10L263.48 217.06L263.88 217.02L264.27 216.97L264.67 216.92L265.06 216.87L265.46 216.82L265.85 216.77L266.25 216.71L266.64 216.65L267.03 216.59L267.43 216.52L267.82 216.45L268.21 216.38L268.60 216.31L268.99 216.23L269.38 216.16L269.77 216.08L270.16 215.99L270.55 215.91L270.94 215.82L271.32 215.73L271.71 215.63L272.10 215.54L272.48 215.44L272.87 215.34L273.25 215.24L273.63 215.13L274.02 215.02L274.40 214.91L274.78 214.80L275.16 214.68L275.54 214.57L275.92 214.44L276.30 214.32L276.67 214.20L277.05 214.07L277.43 213.94L277.80 213.81L278.18 213.67L278.55 213.53L278.92 213.39L279.29 213.25L279.66 213.10L280.03 212.96L280.40 212.81L280.77 212.65L281.14 212.50L281.50 212.34L281.87 212.18L282.23 212.02L282.60 211.86L282.96 211.69L283.32 211.52L283.68 211.35L284.04 211.18L284.40 211.01L284.76 210.83L285.12 210.66L285.48 210.48L285.83 210.30L286.19 210.12L286.55 209.93L286.90 209.75L287.26 209.56L287.61 209.37L287.97 209.19L288.32 209.00L288.67 208.80L289.02 208.61L289.38 208.42L289.73 208.22L290.08 208.03L290.43 207.83L290.78 207.63L291.13 207.44L291.48 207.24L291.83 207.04L292.18 206.84L292.53 206.64L292.88 206.44L293.23 206.23L293.58 206.03L293.93 205.83L294.28 205.63L294.63 205.42L294.97 205.22L295.32 205.02L295.67 204.81L296.02 204.61L296.37 204.41L296.72 204.20L297.07 204.00L297.41 203.80L297.76 203.59L298.11 203.39L298.46 203.19L298.81 202.99L299.16 202.79L299.51 202.59L299.86 202.39L300.21 202.19L300.56 201.99L300.91 201.79L301.26 201.59L301.62 201.40L301.97 201.20L302.32 201.01L302.67 200.82L303.03 200.62L303.38 200.43L303.73 200.24L304.09 200.05L304.44 199.87L304.80 199.68L305.16 199.50L305.51 199.31L305.87 199.13L306.23 198.95L306.59 198.77L306.95 198.60L307.31 198.42L307.67 198.25L308.03 198.08L308.39 197.91L308.76 197.74L309.12 197.58L309.48 197.41L309.85 197.25L310.22 197.09L310.58 196.94L310.95 196.78L311.32 196.63L311.69 196.48L312.06 196.34L312.44 196.19L312.81 196.05L313.18 195.91L313.56 195.77L313.93 195.63L314.31 195.50L314.68 195.37L315.06 195.24L315.44 195.11L315.82 194.99L316.20 194.87L316.58 194.75L316.96 194.63L317.34 194.51L317.73 194.40L318.11 194.29L318.49 194.18L318.88 194.08L319.26 193.97L319.65 193.87L320.03 193.77L320.42 193.67L320.81 193.58L321.20 193.49L321.59 193.40L321.97 193.31L322.36 193.22L322.75 193.14L323.15 193.06L323.54 192.98L323.93 192.90L324.32 192.83L324.71 192.76L325.11 192.69L325.50 192.62L325.89 192.55L326.29 192.49L326.68 192.43L327.08 192.37L327.47 192.31L327.87 192.26L328.27 192.21L328.66 192.16L329.06 192.11L329.46 192.07L329.85 192.02L330.25 191.98L330.65 191.94L331.05 191.91L331.44 191.87L331.84 191.84L332.24 191.81L332.64 191.78L333.04 191.76L333.44 191.74L333.84 191.72L334.24 191.70L334.64 191.68L335.04 191.67L335.44 191.66L335.84 191.65L336.24 191.64L336.64 191.63L337.04 191.63L337.44 191.63L337.84 191.63L338.24 191.63L338.64 191.64L339.04 191.65L339.44 191.66L339.84 191.67L340.24 191.69L340.64 191.70L341.04 191.72L341.44 191.74L341.84 191.77L342.24 191.79L342.64 191.82L343.04 191.85L343.44 191.88L343.83 191.92L344.23 191.95L344.63 191.99L345.03 192.03L345.43 192.08L345.83 192.12L346.22 192.17L346.62 192.22L347.02 192.27L347.42 192.32L347.81 192.38L348.21 192.44L348.60 192.50L349.00 192.56L349.40 192.63L349.79 192.69L350.19 192.76L350.58 192.83L350.97 192.91L351.37 192.98L351.76 193.06L352.15 193.14L352.54 193.22L352.94 193.31L353.33 193.39L353.72 193.48L354.11 193.57L354.50 193.67L354.89 193.76L355.28 193.86L355.66 193.96L356.05 194.06L356.44 194.16L356.82 194.27L357.21 194.38L357.59 194.49L357.98 194.60L358.36 194.72L358.75 194.83L359.13 194.95L359.51 195.07L359.89 195.19L360.27 195.32L360.65 195.45L361.03 195.58L361.41 195.71L361.79 195.84L362.16 195.98" fill="none" stroke="#00aa00" stroke-width="2.3" stroke-linejoin="round"/>
<line x1="21.3" y1="234.4" x2="369.7" y2="234.4" stroke="#000" stroke-width="2.4"/>
<line x1="28.2" y1="25.9" x2="28.2" y2="240.7" stroke="#000" stroke-width="2.4"/>
<g stroke="#000" stroke-width="2.2"><line x1="39.34" y1="234.45" x2="39.34" y2="231.85"/><line x1="50.48" y1="234.45" x2="50.48" y2="231.85"/><line x1="61.62" y1="234.45" x2="61.62" y2="231.85"/><line x1="72.76" y1="234.45" x2="72.76" y2="231.85"/><line x1="83.90" y1="234.45" x2="83.90" y2="229.65"/><line x1="95.04" y1="234.45" x2="95.04" y2="231.85"/><line x1="106.18" y1="234.45" x2="106.18" y2="231.85"/><line x1="117.32" y1="234.45" x2="117.32" y2="231.85"/><line x1="128.46" y1="234.45" x2="128.46" y2="231.85"/><line x1="139.60" y1="234.45" x2="139.60" y2="229.65"/><line x1="150.74" y1="234.45" x2="150.74" y2="231.85"/><line x1="161.88" y1="234.45" x2="161.88" y2="231.85"/><line x1="173.02" y1="234.45" x2="173.02" y2="231.85"/><line x1="184.16" y1="234.45" x2="184.16" y2="231.85"/><line x1="195.30" y1="234.45" x2="195.30" y2="229.65"/><line x1="206.44" y1="234.45" x2="206.44" y2="231.85"/><line x1="217.58" y1="234.45" x2="217.58" y2="231.85"/><line x1="228.72" y1="234.45" x2="228.72" y2="231.85"/><line x1="239.86" y1="234.45" x2="239.86" y2="231.85"/><line x1="251.00" y1="234.45" x2="251.00" y2="229.65"/><line x1="262.14" y1="234.45" x2="262.14" y2="231.85"/><line x1="273.28" y1="234.45" x2="273.28" y2="231.85"/><line x1="284.42" y1="234.45" x2="284.42" y2="231.85"/><line x1="295.56" y1="234.45" x2="295.56" y2="231.85"/><line x1="306.70" y1="234.45" x2="306.70" y2="229.65"/><line x1="317.84" y1="234.45" x2="317.84" y2="231.85"/><line x1="328.98" y1="234.45" x2="328.98" y2="231.85"/><line x1="340.12" y1="234.45" x2="340.12" y2="231.85"/><line x1="351.26" y1="234.45" x2="351.26" y2="231.85"/><line x1="362.40" y1="234.45" x2="362.40" y2="229.65"/><line x1="28.20" y1="226.27" x2="30.90" y2="226.27"/><line x1="28.20" y1="218.09" x2="30.90" y2="218.09"/><line x1="28.20" y1="209.91" x2="30.90" y2="209.91"/><line x1="28.20" y1="201.73" x2="30.90" y2="201.73"/><line x1="28.20" y1="193.55" x2="32.50" y2="193.55"/><line x1="28.20" y1="185.37" x2="30.90" y2="185.37"/><line x1="28.20" y1="177.19" x2="30.90" y2="177.19"/><line x1="28.20" y1="169.01" x2="30.90" y2="169.01"/><line x1="28.20" y1="160.83" x2="30.90" y2="160.83"/><line x1="28.20" y1="152.65" x2="32.50" y2="152.65"/><line x1="28.20" y1="144.47" x2="30.90" y2="144.47"/><line x1="28.20" y1="136.29" x2="30.90" y2="136.29"/><line x1="28.20" y1="128.11" x2="30.90" y2="128.11"/><line x1="28.20" y1="119.93" x2="30.90" y2="119.93"/><line x1="28.20" y1="111.75" x2="32.50" y2="111.75"/><line x1="28.20" y1="103.57" x2="30.90" y2="103.57"/><line x1="28.20" y1="95.39" x2="30.90" y2="95.39"/><line x1="28.20" y1="87.21" x2="30.90" y2="87.21"/><line x1="28.20" y1="79.03" x2="30.90" y2="79.03"/><line x1="28.20" y1="70.85" x2="32.50" y2="70.85"/><line x1="28.20" y1="62.67" x2="30.90" y2="62.67"/><line x1="28.20" y1="54.49" x2="30.90" y2="54.49"/><line x1="28.20" y1="46.31" x2="30.90" y2="46.31"/><line x1="28.20" y1="38.13" x2="30.90" y2="38.13"/><line x1="28.20" y1="29.95" x2="32.50" y2="29.95"/></g>
<text x="83.90" y="248.5" text-anchor="middle" class="tk">5</text><text x="139.60" y="248.5" text-anchor="middle" class="tk">10</text><text x="195.30" y="248.5" text-anchor="middle" class="tk">15</text><text x="251.00" y="248.5" text-anchor="middle" class="tk">20</text><text x="306.70" y="248.5" text-anchor="middle" class="tk">25</text><text x="362.40" y="248.5" text-anchor="middle" class="tk">30</text><text x="25.2" y="197.35" text-anchor="end" class="tk">0.5</text><text x="25.2" y="156.45" text-anchor="end" class="tk">1.0</text><text x="25.2" y="115.55" text-anchor="end" class="tk">1.5</text><text x="25.2" y="74.65" text-anchor="end" class="tk">2.0</text><text x="25.2" y="33.75" text-anchor="end" class="tk">2.5</text>
<text x="12" y="15.8" class="it" font-size="17.5">σ</text>
<text x="22.8" y="8.6" font-size="11.5">2</text>
<line x1="29.7" y1="17.6" x2="33.5" y2="4.4" stroke="#000" stroke-width="1"/>
<text x="34.7" y="15.8" font-size="16.5">L</text>
<text transform="translate(378.6 238.8) scale(1.28 1)" class="it" font-size="15.5">τ</text>
<rect x="282.5" y="85.5" width="82.15" height="91.15" fill="#fff" stroke="#7a7a7a" stroke-width="1"/>
<line x1="286.8" y1="102" x2="302" y2="102" stroke="#0000ff" stroke-width="2" stroke-dasharray="3.6 2"/>
<line x1="286.8" y1="131" x2="302" y2="131" stroke="#ff0000" stroke-width="2" stroke-dasharray="7 2"/>
<line x1="286.8" y1="159.7" x2="302" y2="159.7" stroke="#00aa00" stroke-width="2.4"/>
<text x="314.1" y="105.0" class="it lg">g</text><text x="321.3" y="108.4" class="sb">lin</text><text x="333.1" y="104.4" class="pt">(t)</text>
<text x="314.1" y="133.4" class="it lg">g</text><text x="321.2" y="135.3" class="sb" style="letter-spacing:.3px">par</text><text x="335.5" y="133.5" class="pt">(t)</text>
<text x="314.3" y="161.9" class="it lg">g</text><text x="321.3" y="164.2" class="sb" style="letter-spacing:.1px">quart</text><text x="343.5" y="161.5" class="pt">(t)</text>
</svg>
</body></html>
